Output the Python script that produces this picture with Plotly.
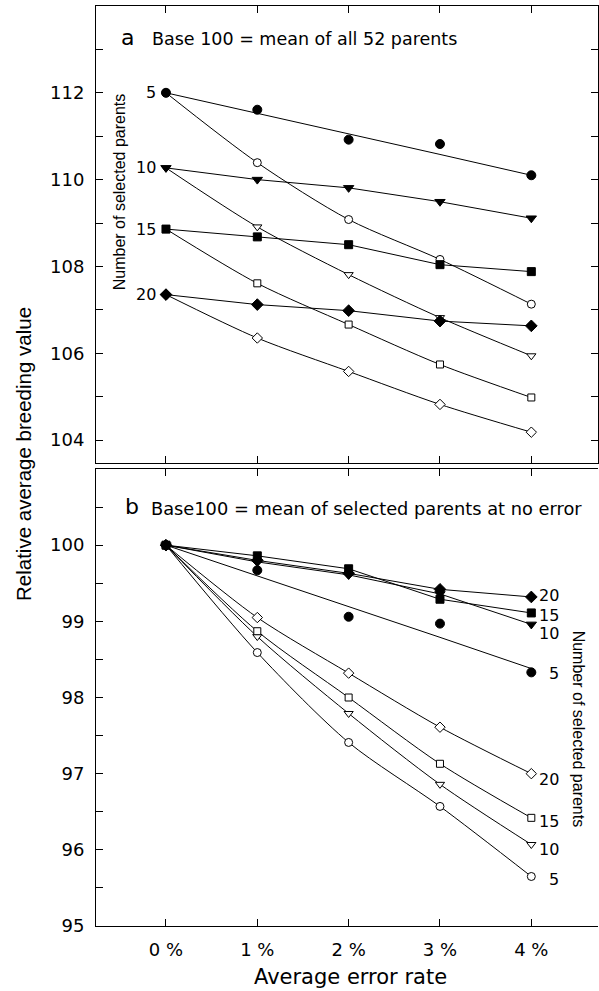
import plotly.graph_objects as go

W, H = 599, 991

# ---------------- data ----------------
error_rate = [0, 1, 2, 3, 4]
x_ticktext = ["0 %", "1 %", "2 %", "3 %", "4 %"]

# Panel a: base 100 = mean of all 52 parents
a_5_filled = [112.0, 111.61, 110.92, 110.82, 110.10]
a_5_filled_fit = [112.0, 111.53, 111.05, 110.58, 110.10]
a_5_open = [112.0, 110.39, 109.08, 108.16, 107.13]
a_10_filled = [110.27, 110.0, 109.81, 109.49, 109.11]
a_10_open = [110.27, 108.91, 107.81, 106.82, 105.94]
a_15_filled = [108.86, 108.68, 108.50, 108.04, 107.88]
a_15_open = [108.86, 107.61, 106.66, 105.74, 104.98]
a_20_filled = [107.35, 107.12, 106.98, 106.74, 106.63]
a_20_open = [107.35, 106.35, 105.58, 104.82, 104.18]
a_tickvals = [104, 105, 106, 107, 108, 109, 110, 111, 112, 113]
a_ticktext = ["104", "", "106", "", "108", "", "110", "", "112", ""]
a_labels = ["5", "10", "15", "20"]

# Panel b: base 100 = mean of selected parents at no error
b_5_filled = [100.0, 99.67, 99.06, 98.97, 98.33]
b_5_filled_fit = [100.0, 99.60, 99.20, 98.79, 98.38]
b_5_open = [100.0, 98.59, 97.41, 96.57, 95.65]
b_10_filled = [100.0, 99.78, 99.61, 99.36, 98.96]
b_10_open = [100.0, 98.80, 97.79, 96.86, 96.07]
b_15_filled = [100.0, 99.86, 99.69, 99.29, 99.11]
b_15_open = [100.0, 98.87, 98.00, 97.13, 96.42]
b_20_filled = [100.0, 99.80, 99.63, 99.42, 99.32]
b_20_open = [100.0, 99.05, 98.32, 97.61, 97.00]
b_tickvals = [95, 95.5, 96, 96.5, 97, 97.5, 98, 98.5, 99, 99.5, 100, 100.5]
b_ticktext = ["95", "", "96", "", "97", "", "98", "", "99", "", "100", ""]
b_labels_filled = ["20", "15", "10", "5"]
b_labels_filled_y = [99.34, 99.08, 98.84, 98.32]
b_labels_open = ["20", "15", "10", "5"]
b_labels_open_y = [96.93, 96.37, 96.00, 95.61]

FONT = "DejaVu Sans, Verdana, sans-serif"
FONT_ROT = "Liberation Sans, Arial, Helvetica, sans-serif"


def px_x(p):
    return p / W


def px_y(p):
    return 1 - p / H


fig = go.Figure()


def add_series(x, y, symbol, filled, size, xa, ya, shape="linear", mode="lines+markers"):
    fig.add_trace(go.Scatter(
        x=x, y=y, mode=mode, xaxis=xa, yaxis=ya,
        line=dict(color="black", width=1, shape=shape, smoothing=0.8),
        marker=dict(symbol=symbol, size=size,
                    color="black" if filled else "white",
                    line=dict(color="black", width=1)),
        showlegend=False, hoverinfo="x+y"))


# Panel a traces
for vals, sym, sz in [(a_5_open, "circle", 8), (a_10_open, "triangle-down", 8),
                      (a_15_open, "square", 7), (a_20_open, "diamond", 8)]:
    add_series(error_rate, vals, sym, False, sz, "x", "y", shape="spline")
add_series(error_rate, a_5_filled_fit, "circle", True, 1, "x", "y", mode="lines")
add_series(error_rate, a_5_filled, "circle", True, 9, "x", "y", mode="markers")
for vals, sym, sz in [(a_10_filled, "triangle-down", 9), (a_15_filled, "square", 8),
                      (a_20_filled, "diamond", 9)]:
    add_series(error_rate, vals, sym, True, sz, "x", "y")

# Panel b traces
for vals, sym, sz in [(b_5_open, "circle", 8), (b_10_open, "triangle-down", 8),
                      (b_15_open, "square", 7), (b_20_open, "diamond", 8)]:
    add_series(error_rate, vals, sym, False, sz, "x2", "y2", shape="spline")
add_series(error_rate, b_5_filled_fit, "circle", True, 1, "x2", "y2", mode="lines")
add_series(error_rate, b_5_filled, "circle", True, 9, "x2", "y2", mode="markers")
for vals, sym, sz in [(b_10_filled, "triangle-down", 9), (b_15_filled, "square", 8),
                      (b_20_filled, "diamond", 9)]:
    add_series(error_rate, vals, sym, True, sz, "x2", "y2")

xdom = [px_x(96), px_x(598)]
xrange_ = [-0.766, 4.73]

axis_common = dict(showgrid=False, zeroline=False, linecolor="black", linewidth=1,
                   ticks="inside", ticklen=7, tickcolor="black", tickwidth=1,
                   automargin=False)

fig.update_layout(
    width=W, height=H,
    margin=dict(l=0, r=0, t=0, b=0),
    paper_bgcolor="white", plot_bgcolor="white",
    font=dict(family=FONT, color="black", size=18),
    showlegend=False,
    xaxis=dict(domain=xdom, range=xrange_, anchor="y", tickvals=error_rate,
               showticklabels=False, showline=True, mirror="ticks", **axis_common),
    yaxis=dict(domain=[px_y(463), px_y(6)], range=[103.47, 114.0], anchor="x",
               tickvals=a_tickvals, ticktext=a_ticktext, showline=True, mirror="ticks",
               tickfont=dict(size=18), ticklabelstandoff=7, **axis_common),
    xaxis2=dict(domain=xdom, range=xrange_, anchor="y2", tickvals=error_rate,
                ticktext=x_ticktext, tickfont=dict(size=18), ticklabelstandoff=7,
                showline=True, mirror="ticks", **axis_common),
    yaxis2=dict(domain=[px_y(926), px_y(469)], range=[95, 101.0], anchor="x2",
                tickvals=b_tickvals, ticktext=b_ticktext, showline=True, mirror=False,
                tickfont=dict(size=18), ticklabelstandoff=7, **axis_common),
    yaxis3=dict(overlaying="y2", side="right", anchor="x2", range=[95, 101.0],
                tickvals=b_tickvals, showticklabels=False, showline=False,
                showgrid=False, zeroline=False, ticks="inside", ticklen=7,
                tickcolor="black", automargin=False),
)

ann = []
# Panel a series labels
for lab, yv in zip(a_labels, [a_5_open[0], a_10_open[0], a_15_open[0], a_20_open[0]]):
    ann.append(dict(x=-0.09, y=yv, xref="x", yref="y", text=lab, showarrow=False,
                    xanchor="right", yanchor="middle", font=dict(size=16)))
ann.append(dict(x=-0.515, y=109.73, xref="x", yref="y", text="Number of selected parents",
                showarrow=False, textangle=-90, xanchor="center", yanchor="middle",
                font=dict(size=16, family=FONT_ROT)))
# Panel b series labels
for lab, yv in zip(b_labels_filled, b_labels_filled_y):
    ann.append(dict(x=4.32, y=yv, xref="x2", yref="y2", text=lab, showarrow=False,
                    xanchor="right", yanchor="middle", font=dict(size=16)))
for lab, yv in zip(b_labels_open, b_labels_open_y):
    ann.append(dict(x=4.32, y=yv, xref="x2", yref="y2", text=lab, showarrow=False,
                    xanchor="right", yanchor="middle", font=dict(size=16)))
ann.append(dict(x=4.52, y=97.58, xref="x2", yref="y2", text="Number of selected parents",
                showarrow=False, textangle=90, xanchor="center", yanchor="middle",
                font=dict(size=16, family=FONT_ROT)))
# Panel titles
ann.append(dict(x=px_x(119), y=px_y(38), xref="paper", yref="paper", text="a",
                showarrow=False, xanchor="left", yanchor="middle", font=dict(size=22)))
ann.append(dict(x=px_x(150), y=px_y(39), xref="paper", yref="paper",
                text="Base 100 = mean of all 52 parents",
                showarrow=False, xanchor="left", yanchor="middle", font=dict(size=17.5)))
ann.append(dict(x=px_x(123), y=px_y(506), xref="paper", yref="paper", text="b",
                showarrow=False, xanchor="left", yanchor="middle", font=dict(size=22)))
ann.append(dict(x=px_x(149), y=px_y(508), xref="paper", yref="paper",
                text="Base100 = mean of selected parents at no error",
                showarrow=False, xanchor="left", yanchor="middle", font=dict(size=17.8)))
# Axis titles
ann.append(dict(x=px_x(23), y=px_y(454), xref="paper", yref="paper",
                text="Relative average breeding value", showarrow=False, textangle=-90,
                xanchor="center", yanchor="middle",
                font=dict(size=20.5, family=FONT_ROT)))
ann.append(dict(x=px_x(350), y=px_y(977), xref="paper", yref="paper",
                text="Average error rate", showarrow=False,
                xanchor="center", yanchor="middle", font=dict(size=21)))

fig.update_layout(annotations=ann)
fig.write_html("out.html", config={"displayModeBar": False},
               post_script="document.body.style.margin='0';document.body.style.padding='0';")
